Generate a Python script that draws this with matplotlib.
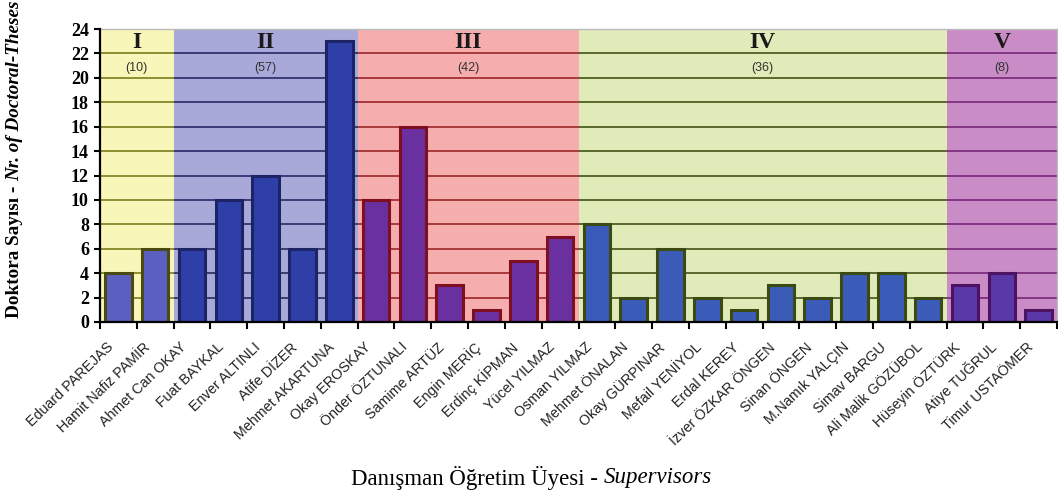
import matplotlib
matplotlib.use("Agg")
import matplotlib.pyplot as plt
from matplotlib.patches import Rectangle

# supervisors and number of doctoral theses, grouped in five periods
supervisors = [
    "Eduard PAREJAS", "Hamit Nafiz PAMİR",
    "Ahmet Can OKAY", "Fuat BAYKAL", "Enver ALTINLI", "Atife DİZER", "Mehmet AKARTUNA",
    "Okay EROSKAY", "Önder ÖZTUNALI", "Samime ARTÜZ", "Engin MERİÇ", "Erdinç KİPMAN", "Yücel YILMAZ",
    "Osman YILMAZ", "Mehmet ÖNALAN", "Okay GÜRPINAR", "Mefail YENİYOL", "Erdal KEREY",
    "İzver ÖZKAR ÖNGEN", "Sinan ÖNGEN", "M.Namık YALÇIN", "Simav BARGU", "Ali Malik GÖZÜBOL",
    "Hüseyin ÖZTÜRK", "Atiye TUĞRUL", "Timur USTAÖMER",
]
theses = [4, 6,
          6, 10, 12, 6, 23,
          10, 16, 3, 1, 5, 7,
          8, 2, 6, 2, 1, 3, 2, 4, 4, 2,
          3, 4, 1]
period_names = ["I", "II", "III", "IV", "V"]
period_sizes = [2, 5, 6, 10, 3]
period_totals = ["(10)", "(57)", "(42)", "(36)", "(8)"]

# styling per period
bg_colors = ["#f8f6b8", "#a9a9d9", "#f5adad", "#e1eab9", "#c98cc6"]
grid_colors = ["#86862a", "#32326e", "#a23232", "#4e5e22", "#7e2e80"]
bar_colors = ["#5b5fbf", "#2e40a8", "#6a30a0", "#3a5cb8", "#5a38a8"]
edge_colors = ["#4a4a12", "#1c2466", "#7e0e22", "#3a4a12", "#4e1262"]

W, H = 1058, 497
fig = plt.figure(figsize=(W / 100, H / 100), dpi=100)
ax = fig.add_axes([100 / W, 1 - 322 / H, 957 / W, 293 / H])

n = len(supervisors)
ymax = 24
start = 0
bar_fc, bar_ec = [], []
for k, size in enumerate(period_sizes):
    x0, x1 = start - 0.5, start + size - 0.5
    ax.add_patch(Rectangle((x0, 0), size, ymax, facecolor=bg_colors[k],
                           edgecolor="none", zorder=0))
    ax.hlines(range(2, ymax + 1, 2), x0, x1, colors=grid_colors[k], lw=1.3, zorder=1)
    xc = (x0 + x1) / 2
    ax.text(xc, 22.9, period_names[k], ha="center", va="center", fontsize=17,
            fontweight="bold", family="Liberation Serif", color="#1a1a1a", zorder=4)
    ax.text(xc, 20.8, period_totals[k], ha="center", va="center", fontsize=9,
            family="Liberation Sans", color="#333333", zorder=4)
    bar_fc += [bar_colors[k]] * size
    bar_ec += [edge_colors[k]] * size
    start += size

xs = list(range(n))
ax.bar(xs, theses, width=0.72, color=bar_fc, edgecolor=bar_ec, linewidth=2.2, zorder=3)

ax.set_xlim(-0.5, n - 0.5)
ax.set_ylim(0, ymax)
ax.set_yticks(range(0, ymax + 1, 2))
for lbl in ax.get_yticklabels():
    lbl.set_fontfamily("Liberation Serif")
    lbl.set_fontweight("bold")
    lbl.set_fontsize(13)
ax.tick_params(axis="y", length=4, width=1.5, pad=4)

# ticks at category boundaries, labels at centres
ax.set_xticks([i - 0.5 for i in range(n + 1)])
ax.set_xticklabels([])
ax.tick_params(axis="x", length=5, width=1.5)
for i, name in enumerate(supervisors):
    ax.text(i - 0.2, -1.9, name, rotation=44, rotation_mode="anchor", ha="right",
            va="center", fontsize=10.3, family="Liberation Sans", color="#222222")

for side in ["top", "right"]:
    ax.spines[side].set_color("#bbbbbb")
    ax.spines[side].set_linewidth(1)
for side in ["left", "bottom"]:
    ax.spines[side].set_linewidth(1.6)
    ax.spines[side].set_zorder(5)

# axis titles, mixed upright / italic parts
fig.canvas.draw()
renderer = fig.canvas.get_renderer()

t1 = fig.text(15 / W, 179 / H, "Doktora Sayısı - ", rotation=90, ha="center", va="bottom",
              fontsize=13.8, fontweight="bold", family="Liberation Serif")
bb = t1.get_window_extent(renderer)
fig.text(15 / W, bb.y1 / H, "Nr. of Doctoral-Theses", rotation=90, ha="center", va="bottom",
         fontsize=13.8, fontweight="bold", style="italic", family="Liberation Serif")

t2 = fig.text(351 / W, 19 / H, "Danışman Öğretim Üyesi - ", ha="left", va="center",
              fontsize=16.5, family="Liberation Serif")
bb = t2.get_window_extent(renderer)
fig.text(bb.x1 / W, 19 / H, "Supervisors", ha="left", va="center",
         fontsize=16.5, style="italic", family="Liberation Serif")

fig.savefig("out.png", dpi=100)
